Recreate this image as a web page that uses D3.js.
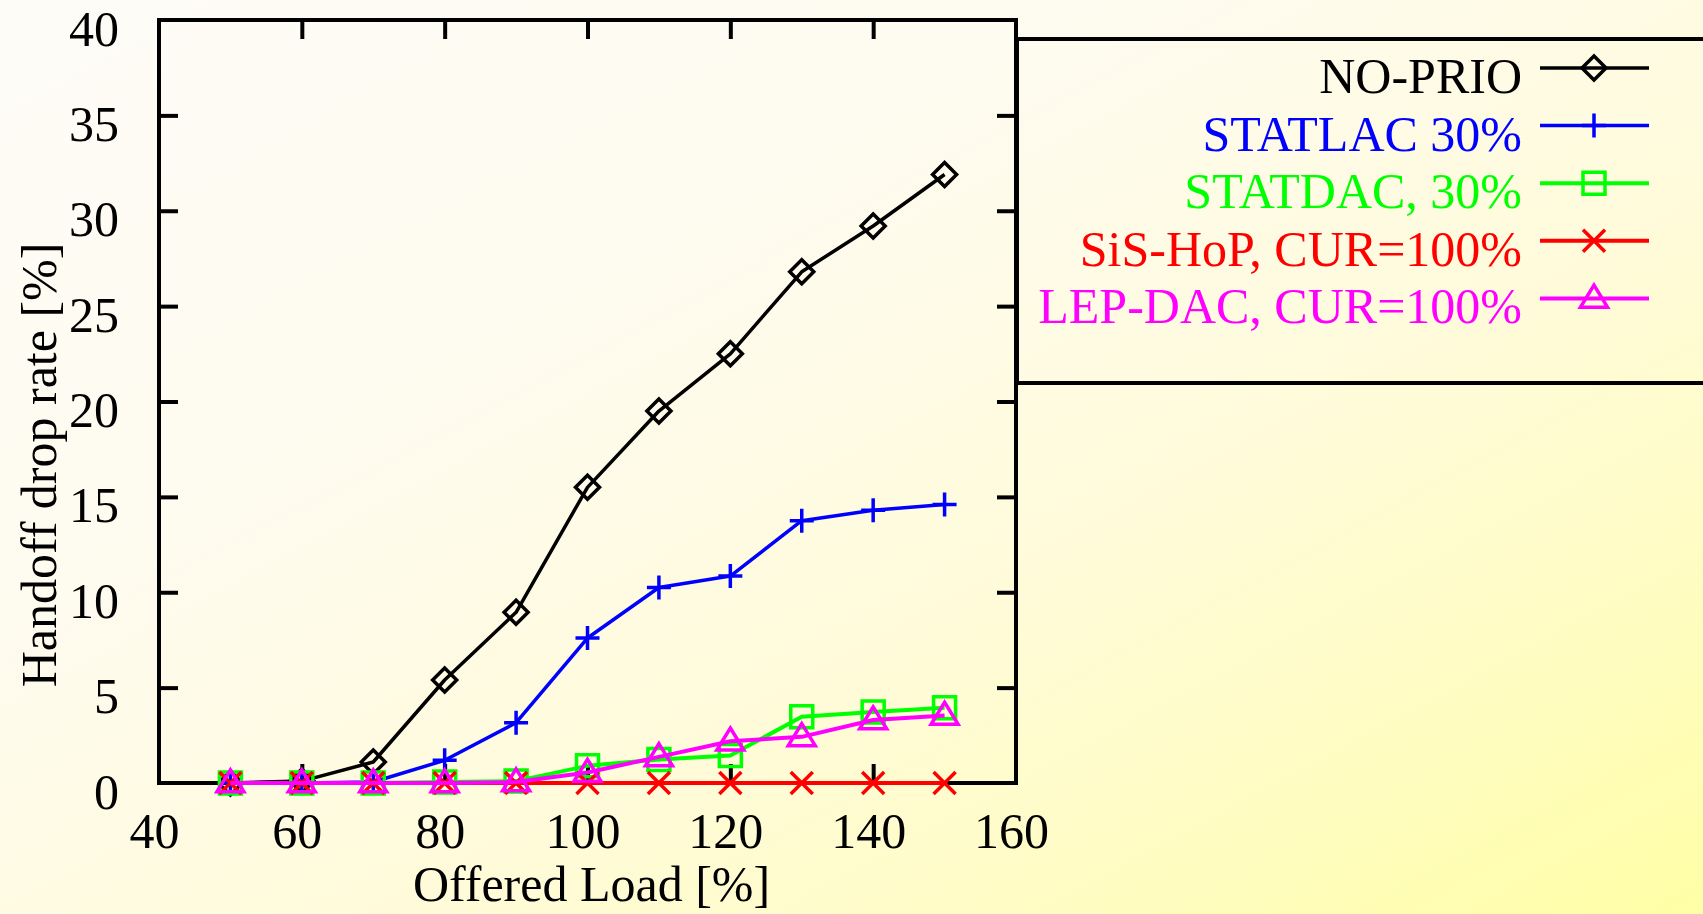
<!DOCTYPE html>
<html>
<head>
<meta charset="utf-8">
<script src="https://cdn.jsdelivr.net/npm/d3@7/dist/d3.min.js"></script>
<style>
  html, body { margin: 0; padding: 0; background: #fffcf6; }
  svg { display: block; }
  text { font-family: "Liberation Serif", "Times New Roman", serif; }
</style>
</head>
<body>
<svg id="chart" width="1703" height="914"></svg>
<script>
// ---- data ----
const loads = [50, 60, 70, 80, 90, 100, 110, 120, 130, 140, 150];
const noPrio  = [0, 0.1, 1.1, 5.4, 8.95, 15.5, 19.5, 22.5, 26.8, 29.2, 31.9];
const statlac = [0, 0, 0.05, 1.19, 3.16, 7.6, 10.25, 10.85, 13.75, 14.3, 14.6];
const statdac = [0, 0, 0, 0.05, 0.1, 0.9, 1.23, 1.44, 3.47, 3.72, 3.95];
const sisHop  = [0, 0, 0, 0, 0, 0, 0, 0, 0, 0, 0];
const lepDac  = [0, 0, 0, 0, 0.05, 0.55, 1.37, 2.19, 2.42, 3.3, 3.54];
const seriesNames = ["NO-PRIO", "STATLAC 30%", "STATDAC, 30%", "SiS-HoP, CUR=100%", "LEP-DAC, CUR=100%"];
const xTicks = [40, 60, 80, 100, 120, 140, 160];
const yTicks = [0, 5, 10, 15, 20, 25, 30, 35, 40];
const xTitle = "Offered Load [%]";
const yTitle = "Handoff drop rate [%]";

// ---- styles ----
const seriesValues = [noPrio, statlac, statdac, sisHop, lepDac];
const colors = ["#000000", "#0000ff", "#00ff00", "#ff0000", "#ff00ff"];
const markers = ["diamond", "plus", "square", "cross", "triangle"];
const lineWidths = [3.5, 3.5, 4, 4, 4];

const svg = d3.select("#chart");
const W = 1703, H = 914;
const pLeft = 159, pRight = 1016, pTop = 20, pBottom = 783;

// background gradient
const defs = svg.append("defs");
const grad = defs.append("linearGradient").attr("id", "bg")
  .attr("x1", "0").attr("y1", "0").attr("x2", "1").attr("y2", "1");
[[0, "#fefcf7"], [0.35, "#fefbef"], [0.6, "#fffbdb"], [0.8, "#fffcc4"], [1, "#ffffa6"]]
  .forEach(([o, c]) => grad.append("stop").attr("offset", o).attr("stop-color", c));
svg.append("rect").attr("width", W).attr("height", H).attr("fill", "url(#bg)");

const x = d3.scaleLinear().domain([40, 160]).range([pLeft, pRight]);
const y = d3.scaleLinear().domain([0, 40]).range([pBottom, pTop]);

const fontSize = 50;
const tickLen = 19;

function styleAxis(g) {
  g.select(".domain").remove();
  g.selectAll(".tick line").attr("stroke", "#000").attr("stroke-width", 4);
  g.selectAll(".tick text").attr("fill", "#000").style("font-size", fontSize + "px")
    .style("font-family", '"Liberation Serif", "Times New Roman", serif');
}

// bottom axis
const gB = svg.append("g").attr("transform", `translate(0,${pBottom})`)
  .call(d3.axisBottom(x).tickValues(xTicks).tickSizeInner(-tickLen).tickSizeOuter(0).tickFormat(d3.format("d")));
styleAxis(gB);
gB.selectAll(".tick text").attr("y", 65).attr("dy", null).attr("dx", -5);

// top axis
const gT = svg.append("g").attr("transform", `translate(0,${pTop})`)
  .call(d3.axisTop(x).tickValues(xTicks).tickSizeInner(-tickLen).tickSizeOuter(0).tickFormat(""));
styleAxis(gT);

// left axis
const gL = svg.append("g").attr("transform", `translate(${pLeft},0)`)
  .call(d3.axisLeft(y).tickValues(yTicks).tickSizeInner(-tickLen).tickSizeOuter(0).tickFormat(d3.format("d")));
styleAxis(gL);
gL.selectAll(".tick text").attr("x", -40).attr("y", 25).attr("dy", null).attr("text-anchor", "end");

// right axis
const gR = svg.append("g").attr("transform", `translate(${pRight},0)`)
  .call(d3.axisRight(y).tickValues(yTicks).tickSizeInner(-tickLen).tickSizeOuter(0).tickFormat(""));
styleAxis(gR);

[gB, gT].forEach(g => g.selectAll(".tick").filter(d => d === 40 || d === 160).select("line").remove());
[gL, gR].forEach(g => g.selectAll(".tick").filter(d => d === 0 || d === 40).select("line").remove());

// frame
svg.append("rect").attr("x", pLeft).attr("y", pTop)
  .attr("width", pRight - pLeft).attr("height", pBottom - pTop)
  .attr("fill", "none").attr("stroke", "#000").attr("stroke-width", 4);

// axis titles
svg.append("text").attr("x", (pLeft + pRight) / 2 + 4).attr("y", 901)
  .attr("text-anchor", "middle").style("font-size", fontSize + "px").attr("fill", "#000")
  .text(xTitle);
svg.append("text").attr("transform", "translate(56,465) rotate(-90)")
  .attr("text-anchor", "middle").style("font-size", fontSize + "px").attr("fill", "#000")
  .text(yTitle);

// marker path generator
function markerPath(type) {
  switch (type) {
    case "diamond": { const r = 12; return `M0,${-r}L${r},0L0,${r}L${-r},0Z`; }
    case "plus": { const r = 12; return `M${-r},0H${r}M0,${-r}V${r}`; }
    case "square": { const r = 11; return `M${-r},${-r}H${r}V${r}H${-r}Z`; }
    case "cross": { const r = 11; return `M${-r},${-r}L${r},${r}M${r},${-r}L${-r},${r}`; }
    case "triangle": { const w = 13.5, h = 22; return `M0,${-h * 0.6}L${w},${h * 0.4}L${-w},${h * 0.4}Z`; }
  }
}

const line = d3.line().x(d => x(d[0])).y(d => y(d[1]));

seriesValues.forEach((vals, i) => {
  const pts = loads.map((l, j) => [l, vals[j]]);
  const g = svg.append("g");
  g.append("path").datum(pts).attr("d", line)
    .attr("fill", "none").attr("stroke", colors[i]).attr("stroke-width", lineWidths[i])
    .attr("stroke-linejoin", "round");
  g.selectAll("path.m").data(pts).enter().append("path").attr("class", "m")
    .attr("transform", d => `translate(${x(d[0])},${y(d[1])})`)
    .attr("d", markerPath(markers[i]))
    .attr("fill", "none").attr("stroke", colors[i]).attr("stroke-width", 3.5);
});

// legend
const lg = svg.append("g");
lg.append("rect").attr("x", 1017).attr("y", 39).attr("width", 800).attr("height", 344)
  .attr("fill", "none").attr("stroke", "#000").attr("stroke-width", 4);
seriesNames.forEach((name, i) => {
  const ly = 68 + i * 57.6;
  lg.append("text").attr("x", 1522).attr("y", ly + 25).attr("text-anchor", "end")
    .style("font-size", fontSize + "px").attr("fill", colors[i]).text(name);
  lg.append("line").attr("x1", 1540).attr("x2", 1649).attr("y1", ly).attr("y2", ly)
    .attr("stroke", colors[i]).attr("stroke-width", lineWidths[i]);
  lg.append("path").attr("transform", `translate(1594,${ly})`).attr("d", markerPath(markers[i]))
    .attr("fill", "none").attr("stroke", colors[i]).attr("stroke-width", 3.5);
});
</script>
</body>
</html>
